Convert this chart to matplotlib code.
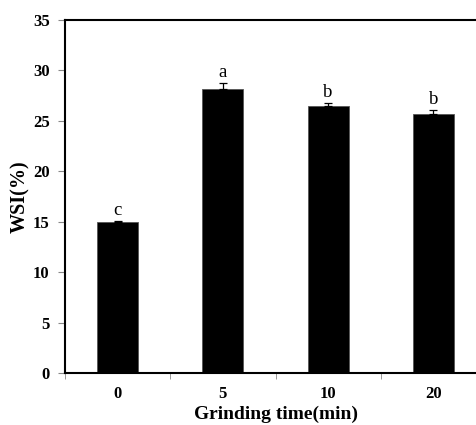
import matplotlib
matplotlib.use("Agg")
import matplotlib.pyplot as plt
import numpy as np

# grinding time groups and water solubility index
times = ["0", "5", "10", "20"]
wsi = [15.0, 28.2, 26.5, 25.7]
wsi_err = [0.1, 0.6, 0.3, 0.35]
letters = ["c", "a", "b", "b"]

plt.rcParams["font.family"] = ["Liberation Serif", "DejaVu Serif"]

fig = plt.figure(figsize=(4.76, 4.25), dpi=100)
ax = fig.add_axes([65 / 476, 52 / 425, 421 / 476, 353 / 425])

x = np.arange(len(times))
ax.bar(x, wsi, width=0.39, color="black", edgecolor="#555555", linewidth=0.6)
ax.errorbar(x, wsi, yerr=[np.zeros(len(wsi)), wsi_err], fmt="none",
            ecolor="black", elinewidth=0.9, capsize=3, capthick=0.9)
for xi, v, e, lab in zip(x, wsi, wsi_err, letters):
    ax.text(xi, v + e + 0.2, lab, ha="center", va="bottom", fontsize=13.5)

ax.set_xlim(-0.5, len(times) - 0.5)
ax.set_ylim(0, 35)
ax.set_yticks(range(0, 36, 5))
ax.set_xticks(x)
ax.set_xticklabels(times, fontweight="bold", fontsize=12)
ax.set_xticks(np.arange(-0.5, len(times), 1), minor=True)
ax.tick_params(axis="x", which="major", length=0, pad=9)
ax.tick_params(axis="x", which="minor", length=4, color="#888888", direction="out")
ax.tick_params(axis="y", length=5, color="#888888", direction="out", pad=6)
for t in ax.get_yticklabels():
    t.set_fontweight("bold")
    t.set_fontsize(12)

for s in ["left", "bottom", "top"]:
    ax.spines[s].set_linewidth(1.5)
ax.spines["right"].set_visible(False)

ax.set_xlabel("Grinding time(min)", fontsize=14, fontweight="bold", labelpad=3)
ax.set_ylabel("WSI(%)", fontsize=14.5, fontweight="bold", labelpad=2)

fig.savefig("out.png", dpi=100)
